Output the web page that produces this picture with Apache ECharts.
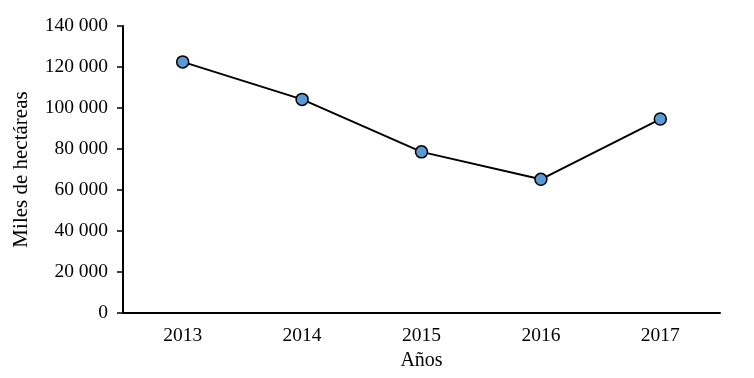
<!DOCTYPE html>
<html><head><meta charset="utf-8">
<script src="https://cdn.jsdelivr.net/npm/echarts@6/dist/echarts.min.js"></script>
<style>html,body{margin:0;padding:0;background:#fff}#c{width:754px;height:378px}</style>
</head><body><div id="c"></div>
<script>
var years = ['2013', '2014', '2015', '2016', '2017'];
var hectareas = [122500, 104200, 78600, 65200, 94600];
var yTicks = [0, 20000, 40000, 60000, 80000, 100000, 120000, 140000];

var font = 'Liberation Serif';
var chart = echarts.init(document.getElementById('c'));
chart.setOption({
  animation: false,
  grid: {left: 123, right: 34, top: 26, bottom: 65},
  xAxis: {
    type: 'category', data: years, boundaryGap: true,
    axisLine: {lineStyle: {color: '#000', width: 2}},
    axisTick: {show: false},
    axisLabel: {color: '#000', fontFamily: font, fontSize: 19.5, margin: 13},
    name: 'Años', nameLocation: 'middle', nameGap: 37,
    nameTextStyle: {color: '#000', fontFamily: font, fontSize: 20}
  },
  yAxis: {
    type: 'value', min: yTicks[0], max: yTicks[yTicks.length - 1], interval: 20000,
    axisLine: {show: true, lineStyle: {color: '#000', width: 2}},
    axisTick: {show: true, length: 6, lineStyle: {color: '#000', width: 1.5}},
    splitLine: {show: false},
    axisLabel: {color: '#000', fontFamily: font, fontSize: 19.5, margin: 15,
      formatter: function (v) { return String(v).replace(/\B(?=(\d{3})+(?!\d))/g, ' '); }},
    name: 'Miles de hectáreas', nameLocation: 'middle', nameGap: 91, nameRotate: 90,
    nameTextStyle: {color: '#000', fontFamily: font, fontSize: 21}
  },
  series: [{
    type: 'line', data: hectareas,
    symbol: 'circle', symbolSize: 12,
    lineStyle: {color: '#000', width: 2},
    itemStyle: {color: '#5b9bd5', borderColor: '#000', borderWidth: 1.5}
  }]
});
</script></body></html>
